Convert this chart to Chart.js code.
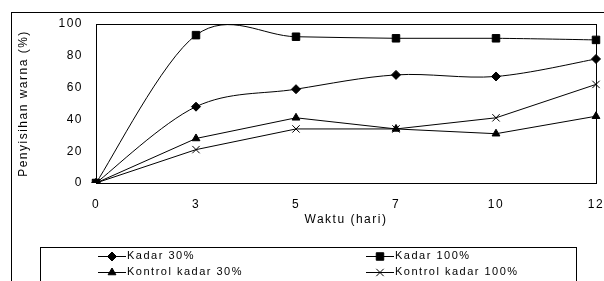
<!DOCTYPE html>
<html lang="en">

<head>
    <meta charset="UTF-8">
    <script src="https://cdn.jsdelivr.net/npm/chart.js@4.4.1/dist/chart.umd.min.js"></script>
    <title>Penyisihan warna</title>
    <style>
        body { margin: 0; background: #fff; }
    </style>
</head>

<body>
    <canvas id="chart" width="604" height="281"></canvas>

    <script>
        // hari pengamatan (x axis categories)
        const days = ["0", "3", "5", "7", "10", "12"]
        const yTicks = [0, 20, 40, 60, 80, 100]

        // penyisihan warna (%) per perlakuan
        const kadar30 = [0, 48, 59, 68, 67, 78]
        const kadar100 = [0, 93, 92, 91, 91, 90]
        const kontrol30 = [0, 28, 41, 34, 31, 42]
        const kontrol100 = [0, 21, 34, 34, 41, 62]

        const FONT = "'Liberation Sans', Arial, sans-serif"
        const SPACING = '1.5px'

        function series(label, data, style, radius, smooth) {
            return {
                label, data,
                borderColor: '#000',
                backgroundColor: '#000',
                borderWidth: 1,
                pointStyle: style,
                pointRadius: radius,
                pointHoverRadius: radius,
                pointBorderWidth: 1,
                tension: smooth ? 0.4 : 0
            }
        }

        // excel style smoothing: catmull-rom control points (next - prev) / 6
        const excelSmooth = {
            id: 'excelSmooth',
            beforeDatasetsDraw(chart) {
                chart.data.datasets.forEach((ds, i) => {
                    if (!ds.tension) return
                    const meta = chart.getDatasetMeta(i)
                    const line = meta.dataset
                    line.updateControlPoints(chart.chartArea, 'x')
                    const pts = meta.data
                    pts.forEach((p, k) => {
                        const prev = pts[Math.max(k - 1, 0)]
                        const next = pts[Math.min(k + 1, pts.length - 1)]
                        const dx = (next.x - prev.x) / 6
                        const dy = (next.y - prev.y) / 6
                        p.cp1x = p.x - dx; p.cp1y = p.y - dy
                        p.cp2x = p.x + dx; p.cp2y = p.y + dy
                    })
                    line._path = undefined
                })
            }
        }

        // outer frame, plot box and legend box
        const frame = {
            id: 'frame',
            beforeDraw(chart) {
                const c = chart.ctx
                c.letterSpacing = SPACING
                c.save()
                c.fillStyle = '#fff'
                c.fillRect(0, 0, chart.width, chart.height)
                c.strokeStyle = '#000'
                c.lineWidth = 1
                c.strokeRect(11.5, 12.5, 700, 400)
                c.restore()
            },
            afterDraw(chart) {
                const c = chart.ctx
                const a = chart.chartArea
                c.save()
                c.strokeStyle = '#000'
                c.lineWidth = 1
                c.strokeRect(Math.round(a.left) + 0.5, Math.round(a.top) + 0.5,
                    Math.round(a.right - a.left), Math.round(a.bottom - a.top))

                // legend
                c.strokeRect(40.5, 247.5, 536, 100)
                const slots = [[98, 256], [366, 256], [98, 272], [366, 272]]
                c.font = '11px ' + FONT
                c.textBaseline = 'middle'
                chart.data.datasets.forEach((ds, i) => {
                    const [x, y] = slots[i]
                    c.beginPath()
                    c.moveTo(x, y + 0.5)
                    c.lineTo(x + 28, y + 0.5)
                    c.stroke()
                    Chart.helpers.drawPoint(c, {
                        pointStyle: ds.pointStyle,
                        radius: ds.pointRadius,
                        borderWidth: 1,
                        rotation: 0
                    }, x + 14, y + 0.5)
                    c.fillStyle = '#000'
                    c.fillText(ds.label, x + 29, y)
                })
                c.restore()
            }
        }

        const chart = new Chart(document.getElementById('chart'), {
            type: 'line',
            data: {
                labels: days,
                datasets: [
                    series('Kadar 30%', kadar30, 'rectRot', 4.5, true),
                    series('Kadar 100%', kadar100, 'rect', 5.3, true),
                    series('Kontrol kadar 30%', kontrol30, 'triangle', 4.5, false),
                    series('Kontrol kadar 100%', kontrol100, 'crossRot', 5.2, false)
                ]
            },
            options: {
                responsive: false,
                animation: false,
                devicePixelRatio: 1,
                layout: { padding: { top: 24, right: 8, bottom: 54, left: 0 } },
                plugins: {
                    legend: { display: false },
                    tooltip: { enabled: false }
                },
                scales: {
                    x: {
                        offset: false,
                        grid: { display: false, drawTicks: true, tickLength: 4, color: '#000' },
                        border: { display: true, color: '#000', width: 1 },
                        ticks: { color: '#000', font: { family: FONT, size: 12 }, padding: 10, maxRotation: 0 },
                        title: {
                            display: true, text: 'Waktu (hari)', color: '#000',
                            font: { family: FONT, size: 12 }, padding: { top: 0, bottom: 0 }
                        },
                        afterFit(s) {
                            s.height = 44
                            s.paddingLeft = 0
                            s.paddingRight = 0
                        }
                    },
                    y: {
                        min: 0, max: 100,
                        afterBuildTicks(s) { s.ticks = yTicks.map(v => ({ value: v })) },
                        grid: { display: false, drawTicks: true, tickLength: 4, color: '#000' },
                        border: { display: true, color: '#000', width: 1 },
                        ticks: { color: '#000', font: { family: FONT, size: 12 }, padding: 9 },
                        title: {
                            display: true, text: 'Penyisihan warna (%)', color: '#000',
                            font: { family: FONT, size: 12 }, padding: { top: 16, bottom: 0 }
                        },
                        afterFit(s) {
                            s.width = 96
                            s.paddingTop = 0
                            s.paddingBottom = 0
                        }
                    }
                }
            },
            plugins: [excelSmooth, frame]
        })
    </script>
</body>

</html>
